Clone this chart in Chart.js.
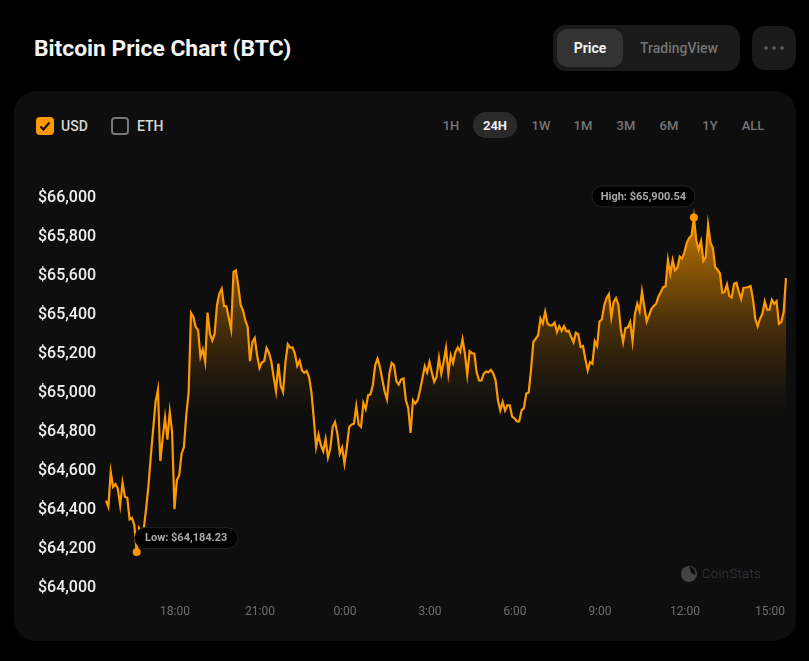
<!DOCTYPE html>
<html>
<head>
<meta charset="utf-8">
<title>Bitcoin Price Chart (BTC)</title>
<script src="https://cdn.jsdelivr.net/npm/chart.js@4"></script>
<style>
  html, body { margin: 0; height: 100%; background: #000; overflow: hidden; font-family: Roboto, sans-serif; }
  #page { position: relative; width: 809px; height: 661px; }
  #page > * { position: absolute; }
  h1 { margin: 0; left: 34px; top: 35px; line-height: 28px; font-size: 22.8px; font-weight: 700; color: #f5f5f5; white-space: nowrap; }
  #card { left: 14px; top: 91px; width: 782px; height: 550px; border-radius: 22px; background: #0e0e0e; }
  #switch { left: 553px; top: 25px; width: 187px; height: 46px; border-radius: 13px; background: #1a1a1a; }
  #switch span { position: absolute; top: 4px; height: 38px; line-height: 38px; text-align: center; font-size: 14px; font-weight: 500; color: #757575; }
  #switch .on { left: 4px; width: 66px; border-radius: 10px; background: #333; color: #f0f0f0; font-weight: 700; }
  #switch .off { left: 70px; width: 112px; }
  #more { left: 752px; top: 26px; width: 44px; height: 44px; border-radius: 13px; background: #1a1a1a; text-align: center; }
  #more i { display: inline-block; width: 4px; height: 4px; margin: 20px 1.8px 0; border-radius: 50%; background: #555; }
  .box { top: 117px; width: 18px; height: 18px; border-radius: 4px; box-sizing: border-box; }
  .box svg { display: block; }
  .lbl { top: 117px; line-height: 18px; font-size: 14px; font-weight: 500; color: #d8d8d8; }
  .range { top: 117px; height: 18px; line-height: 18px; width: 40px; margin-left: -20px; text-align: center; font-size: 13px; font-weight: 500; color: #757575; }
  #pill { left: 473px; top: 112px; width: 44px; height: 26px; border-radius: 13px; background: #2a2a2a; }
  #mark { left: 702px; top: 566px; line-height: 16px; font-size: 13px; letter-spacing: 0.4px; font-weight: 300; color: #3b3b3b; }
  #logo { left: 680px; top: 565px; }
  canvas { left: 0; top: 0; }
</style>
</head>
<body>
<div id="page">
  <h1>Bitcoin Price Chart (BTC)</h1>
  <div id="switch"><span class="on">Price</span><span class="off">TradingView</span></div>
  <div id="more"><i></i><i></i><i></i></div>
  <div id="card"></div>
  <div class="box" style="left:36px;background:#ff9900">
    <svg width="18" height="18"><path d="M4.5 9.5l3 3 6-7" fill="none" stroke="#111" stroke-width="2.2"/></svg>
  </div>
  <div class="lbl" style="left:61px">USD</div>
  <div class="box" style="left:111px;border:2px solid #777"></div>
  <div class="lbl" style="left:137px">ETH</div>
  <div id="pill"></div>
  <div id="ranges"></div>
  <svg id="logo" width="18" height="18"><circle cx="9" cy="9" r="8" fill="#444"/><path d="M9 1.5a7.5 7.5 0 0 1 6.5 8.5l-4-1.5z" fill="#0e0e0e"/></svg>
  <div id="mark">CoinStats</div>
  <canvas id="chart" width="809" height="661" style="width:809px;height:661px"></canvas>
</div>

<script>
// Dados, um ponto a cada 5 minutos
const startMinute = 934; // 15:34
const stepMinutes = 5;
const prices = [
  64448, 64416, 64595, 64518, 64533, 64510, 64424, 64540, 64467, 64463,
  64352, 64359, 64322, 64184.23, 64308, 64287, 64304, 64407, 64527, 64680,
  64817, 64954, 65017, 64651, 64766, 64874, 64761, 64903, 64800, 64404,
  64552, 64578, 64689, 64723, 64886, 65005, 65410, 65390, 65339, 65322,
  65185, 65224, 65159, 65412, 65304, 65270, 65304, 65450, 65510, 65535,
  65445, 65445, 65385, 65327, 65621, 65629, 65552, 65453, 65424, 65373,
  65339, 65163, 65262, 65282, 65193, 65128, 65156, 65164, 65231, 65207,
  65163, 65082, 65009, 65151, 65036, 65005, 65159, 65250, 65233, 65234,
  65202, 65139, 65166, 65116, 65104, 65113, 65082, 65005, 64869, 64723,
  64786, 64732, 64701, 64763, 64669, 64715, 64826, 64851, 64792, 64689,
  64720, 64638, 64723, 64826,
  64838, 64843, 64932, 64838, 64826, 64949, 64917, 64988, 64993, 65040,
  65142, 65176, 65134, 65070, 65009, 64968, 65099, 65154, 65142, 65060,
  65043, 65070, 65074, 64963, 64923, 64795, 64963, 64946, 64963, 65014,
  65074, 65137, 65105, 65159, 65105, 65057, 65082, 65180, 65099, 65159,
  65231, 65099, 65193, 65154, 65211, 65233, 65211, 65275, 65202, 65094,
  65214, 65204, 65202, 65105, 65064, 65064, 65099, 65110, 65106, 65118,
  65101, 65065, 64963, 64911, 64954, 64910, 64937, 64937, 64879, 64870,
  64855, 64855, 64911, 64923, 64997, 65002, 65117, 65262, 65279, 65296,
  65382, 65356, 65416, 65356, 65347, 65347, 65361, 65313,
  65343, 65318, 65343, 65316, 65319, 65287, 65261, 65309, 65302, 65236,
  65241, 65176, 65116, 65159, 65150, 65266, 65241, 65367, 65377, 65449,
  65487, 65507, 65389, 65466, 65487, 65453, 65330, 65261, 65333, 65336,
  65364, 65266, 65406, 65458, 65420, 65521, 65441, 65367, 65398, 65432,
  65446, 65458, 65495, 65518, 65543, 65547, 65683, 65612, 65682, 65629,
  65642, 65700, 65689, 65723, 65771, 65795, 65808, 65900.54, 65783, 65736,
  65779, 65677, 65697, 65863, 65771, 65745, 65646, 65632, 65615, 65514,
  65518, 65557, 65497, 65490, 65560, 65565, 65521, 65483, 65540, 65541,
  65543, 65548, 65483, 65381, 65342, 65381, 65406, 65470, 65427, 65427,
  65478, 65458, 65471, 65355, 65364, 65415, 65589
];
const xTickMinutes = [1080, 1260, 1440, 1620, 1800, 1980, 2160, 2340];
const xTickLabels = ['18:00', '21:00', '0:00', '3:00', '6:00', '9:00', '12:00', '15:00'];
const rangeLabels = ['1H', '24H', '1W', '1M', '3M', '6M', '1Y', 'ALL'];
const rangeCenters = [451, 495, 541, 583, 626, 669, 710, 753];

rangeLabels.forEach((label, i) => {
  const el = document.createElement('div');
  el.className = 'range';
  el.style.position = 'absolute';
  el.style.left = rangeCenters[i] + 'px';
  el.textContent = label;
  if (label === '24H') { el.style.color = '#eee'; el.style.fontWeight = '700'; }
  document.getElementById('ranges').appendChild(el);
});

const low = Math.min(...prices);
const high = Math.max(...prices);
const lowIndex = prices.indexOf(low);
const highIndex = prices.indexOf(high);
const points = prices.map((p, i) => ({ x: startMinute + i * stepMinutes, y: p }));

// Etiquetas de mínimo e máximo
const pillPlugin = {
  id: 'pills',
  afterDatasetsDraw(chart) {
    const { ctx, scales } = chart;
    const drawPill = (index, text, dx, dy) => {
      const cx = scales.x.getPixelForValue(points[index].x) + dx;
      const cy = scales.y.getPixelForValue(points[index].y) + dy;
      ctx.save();
      ctx.beginPath();
      ctx.roundRect(cx - 51.5, cy - 10.5, 103, 21, 10.5);
      ctx.fillStyle = '#000';
      ctx.fill();
      ctx.strokeStyle = '#222';
      ctx.lineWidth = 1;
      ctx.stroke();
      ctx.font = '700 11px Roboto';
      ctx.fillStyle = '#a8a8a8';
      ctx.textAlign = 'center';
      ctx.textBaseline = 'middle';
      ctx.fillText(text, cx, cy + 0.5);
      ctx.restore();
    };
    const money = v => '$' + v.toLocaleString('en-US', { minimumFractionDigits: 2 });
    drawPill(lowIndex, 'Low: ' + money(low), 49.5, -14);
    drawPill(highIndex, 'High: ' + money(high), -50.5, -21);
  }
};

new Chart(document.getElementById('chart'), {
  type: 'line',
  data: {
    datasets: [{
      data: points,
      borderColor: '#ff9900',
      borderWidth: 2.2,
      tension: 0,
      clip: false,
      pointRadius: ctx => (ctx.dataIndex === lowIndex || ctx.dataIndex === highIndex) ? 4 : 0,
      pointBackgroundColor: '#ff9900',
      pointBorderWidth: 0,
      fill: 'start',
      backgroundColor: ctx => {
        const { chart } = ctx;
        if (!chart.chartArea) return 'transparent';
        const y = chart.scales.y;
        const grad = chart.ctx.createLinearGradient(0, y.getPixelForValue(high), 0, y.getPixelForValue(64870));
        grad.addColorStop(0, 'rgba(255,153,0,0.75)');
        grad.addColorStop(0.5, 'rgba(255,153,0,0.27)');
        grad.addColorStop(0.8, 'rgba(255,153,0,0.07)');
        grad.addColorStop(1, 'rgba(255,153,0,0)');
        return grad;
      }
    }]
  },
  options: {
    responsive: false,
    animation: false,
    layout: { padding: { left: 38, right: 23, top: 198, bottom: 33 } },
    plugins: { legend: { display: false }, tooltip: { enabled: false } },
    scales: {
      x: {
        type: 'linear',
        min: startMinute,
        max: startMinute + (prices.length - 1) * stepMinutes,
        grid: { display: false },
        border: { display: false },
        afterBuildTicks: axis => { axis.ticks = xTickMinutes.map(value => ({ value })); },
        afterFit: axis => { axis.height = 40; },
        ticks: {
          autoSkip: false,
          maxRotation: 0,
          padding: 9,
          color: '#6e6e6e',
          font: { family: 'Roboto', size: 12 },
          callback: value => xTickLabels[xTickMinutes.indexOf(value)]
        }
      },
      y: {
        min: 64000,
        max: 66000,
        grid: { display: false },
        border: { display: false },
        afterFit: axis => { axis.width = 68; },
        ticks: {
          stepSize: 200,
          crossAlign: 'far',
          color: '#f0f0f0',
          font: { family: 'Roboto', size: 16, weight: '500' },
          callback: value => '$' + value.toLocaleString('en-US')
        }
      }
    }
  },
  plugins: [pillPlugin]
});
</script>
</body>
</html>
